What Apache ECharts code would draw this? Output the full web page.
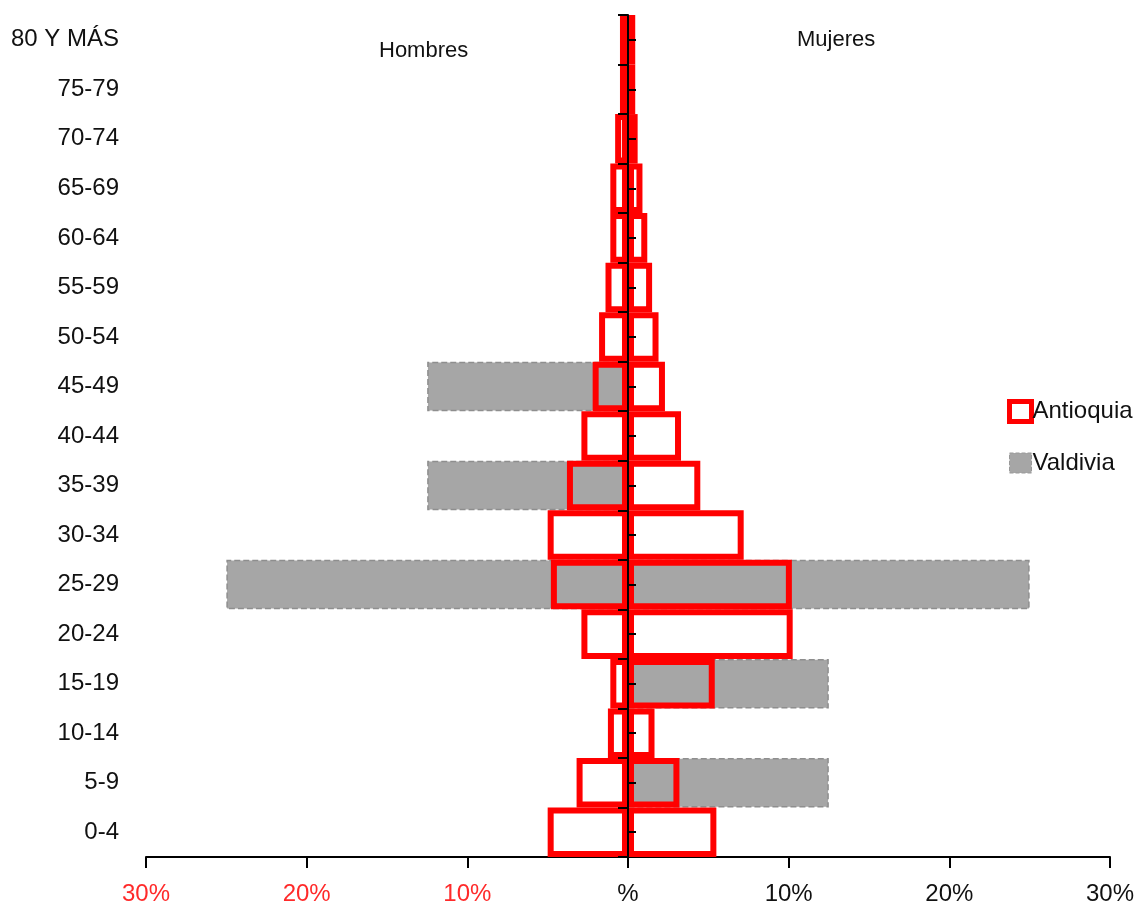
<!DOCTYPE html>
<html>
<head>
<meta charset="utf-8">
<script src="https://cdn.jsdelivr.net/npm/echarts@6/dist/echarts.min.js"></script>
<style>
  html, body { margin: 0; padding: 0; background: #ffffff; }
  #chart { width: 1139px; height: 907px; }
</style>
</head>
<body>
<div id="chart"></div>
<script>
// Age groups, bottom to top
const categories = ['0-4', '5-9', '10-14', '15-19', '20-24', '25-29', '30-34', '35-39',
  '40-44', '45-49', '50-54', '55-59', '60-64', '65-69', '70-74', '75-79', '80 Y MÁS'];

// Share of population (%) per age group
const antioquiaHombres = [5.0, 3.2, 1.25, 1.1, 2.9, 4.8, 5.0, 3.8, 2.9, 2.2, 1.8, 1.4, 1.1, 1.1, 0.8, 0.5, 0.5];
const antioquiaMujeres = [5.5, 3.2, 1.65, 5.4, 10.25, 10.2, 7.2, 4.5, 3.3, 2.3, 1.9, 1.5, 1.2, 0.9, 0.6, 0.45, 0.45];
const valdiviaHombres = [0, 0, 0, 0, 0, 25, 0, 12.5, 0, 12.5, 0, 0, 0, 0, 0, 0, 0];
const valdiviaMujeres = [0, 12.5, 0, 12.5, 0, 25, 0, 0, 0, 0, 0, 0, 0, 0, 0, 0, 0];

// Percentage axis labels from -30 to 30
const xTickLabels = ['30%', '20%', '10%', '%', '10%', '20%', '30%'];

const FONT = "'Liberation Sans', Arial, sans-serif";

// Males are plotted to the left of zero
const left = arr => arr.map(v => (v ? -v : '-'));
const right = arr => arr.map(v => (v ? v : '-'));

const greyStyle = { color: '#a6a6a6', borderColor: '#8e8e8e', borderWidth: 1.5, borderType: 'dashed' };
const redStyle = { color: 'rgba(255,255,255,0)', borderColor: '#ff0000', borderWidth: 6 };

const gridRect = { left: 146, right: 29, top: 15, bottom: 50, containLabel: false, outerBoundsMode: 'none' };

const chart = echarts.init(document.getElementById('chart'), null, { renderer: 'canvas' });
chart.setOption({
  animation: false,
  backgroundColor: '#ffffff',
  textStyle: { fontFamily: FONT },
  grid: [Object.assign({}, gridRect), Object.assign({}, gridRect)],
  legend: {
    orient: 'vertical',
    left: 1007,
    top: 399,
    padding: 0,
    itemWidth: 22,
    itemHeight: 20,
    itemGap: 27,
    icon: 'rect',
    textStyle: { fontFamily: FONT, fontSize: 24, color: '#111111', padding: [0, 0, 0, -4] },
    data: [
      { name: 'Antioquia', itemStyle: { color: '#ffffff', borderColor: '#ff0000', borderWidth: 5 } },
      { name: 'Valdivia', itemStyle: { color: '#a6a6a6', borderColor: '#999999', borderWidth: 1, borderType: 'dashed' } }
    ]
  },
  xAxis: [
    {
      type: 'value',
      gridIndex: 0,
      min: -30,
      max: 30,
      interval: 10,
      splitLine: { show: false },
      axisLine: { show: true, lineStyle: { color: '#000000', width: 2 } },
      axisTick: { show: true, length: 11, lineStyle: { color: '#000000', width: 2 } },
      axisLabel: {
        margin: 25,
        fontSize: 24,
        fontFamily: FONT,
        formatter: v => xTickLabels[Math.round((v + 30) / 10)],
        color: v => (v < 0 ? '#ff2a2a' : '#111111')
      }
    },
    {
      // hidden twin scale carrying the centre-tick axis
      type: 'value',
      gridIndex: 1,
      min: -30,
      max: 30,
      interval: 10,
      show: false
    }
  ],
  yAxis: [
    {
      // category labels at the left edge
      type: 'category',
      gridIndex: 0,
      position: 'left',
      data: categories,
      axisLine: { show: false, onZero: false },
      axisTick: { show: false },
      axisLabel: { margin: 27, fontSize: 24, fontFamily: FONT, color: '#111111' }
    },
    {
      // centre line with ticks at group boundaries
      type: 'category',
      gridIndex: 0,
      position: 'left',
      data: categories,
      z: 10,
      axisLine: { show: true, onZero: true, lineStyle: { color: '#000000', width: 2 } },
      axisTick: { show: true, length: 10, lineStyle: { color: '#000000', width: 2 } },
      axisLabel: { show: false }
    },
    {
      // short inner ticks at group centres
      type: 'category',
      gridIndex: 1,
      position: 'left',
      data: categories,
      z: 10,
      axisLine: { show: false, onZero: true },
      axisTick: { show: true, inside: true, alignWithLabel: true, length: 8, lineStyle: { color: '#000000', width: 2 } },
      axisLabel: { show: false }
    }
  ],
  series: [
    { name: 'Valdivia', type: 'bar', stack: 'valdivia', yAxisIndex: 0, data: left(valdiviaHombres),
      barWidth: '100%', barGap: '-100%', itemStyle: greyStyle, z: 2 },
    { name: 'Valdivia', type: 'bar', stack: 'valdivia', yAxisIndex: 0, data: right(valdiviaMujeres),
      barWidth: '100%', barGap: '-100%', itemStyle: greyStyle, z: 2 },
    { name: 'Antioquia', type: 'bar', stack: 'antioquia', yAxisIndex: 0, data: left(antioquiaHombres),
      barWidth: '100%', barGap: '-100%', itemStyle: redStyle, z: 3 },
    { name: 'Antioquia', type: 'bar', stack: 'antioquia', yAxisIndex: 0, data: right(antioquiaMujeres),
      barWidth: '100%', barGap: '-100%', itemStyle: redStyle, z: 3 }
  ],
  graphic: [
    { type: 'text', left: 379, top: 40, style: { text: 'Hombres', font: "22px " + FONT, fill: '#111111' } },
    { type: 'text', left: 797, top: 29, style: { text: 'Mujeres', font: "22px " + FONT, fill: '#111111' } }
  ]
});
</script>
</body>
</html>
